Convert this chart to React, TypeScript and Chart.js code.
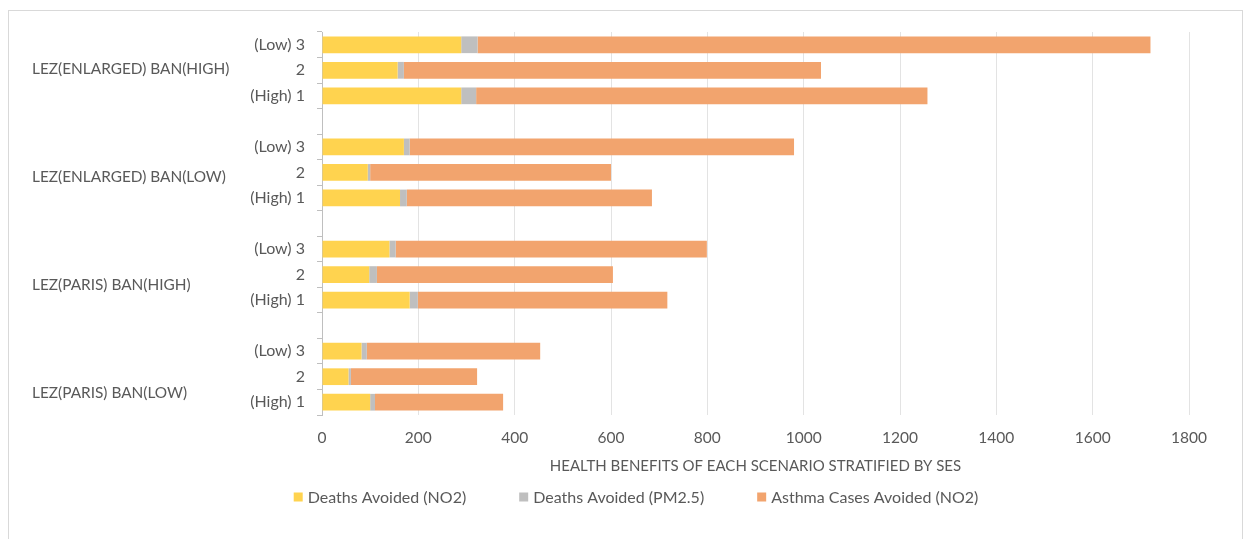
import React, { useEffect, useRef } from "react";
import { Chart, registerables } from "chart.js";

Chart.register(...registerables);

// ---------- data ----------
const groupNames = [
  "LEZ(ENLARGED) BAN(HIGH)",
  "LEZ(ENLARGED) BAN(LOW)",
  "LEZ(PARIS) BAN(HIGH)",
  "LEZ(PARIS) BAN(LOW)",
];
const categories = [
  "(Low) 3", "2", "(High) 1", "",
  "(Low) 3", "2", "(High) 1", "",
  "(Low) 3", "2", "(High) 1", "",
  "(Low) 3", "2", "(High) 1",
];
const deathsNO2 = [289, 157, 289, null, 170, 95, 162, null, 140, 98, 182, null, 82, 55, 100];
const deathsPM25 = [34, 13, 31, null, 12, 5, 14, null, 13, 16, 17, null, 11, 5, 10];
const asthmaNO2 = [1397, 866, 937, null, 798, 500, 509, null, 646, 490, 518, null, 360, 262, 266];
const seriesNames = ["Deaths Avoided (NO2)", "Deaths Avoided (PM2.5)", "Asthma Cases Avoided (NO2)"];
const xTickStep = 200;
const xMax = 1800;
const axisTitle = "HEALTH BENEFITS OF EACH SCENARIO STRATIFIED BY SES";

// ---------- style ----------
const FONT = "Lato, 'Open Sans', sans-serif";
const FS = 16;
const TEXT = "#595959";
const COLORS = ["#FFD34F", "#BFBFBF", "#F2A46E"];

const groupLabelPlugin = {
  id: "groupLabels",
  afterDraw(chart: any) {
    const ctx = chart.ctx;
    const y = chart.scales.y;
    const rowH = (y.bottom - y.top) / categories.length;
    ctx.save();
    ctx.font = `15.4px ${FONT}`;
    ctx.fillStyle = TEXT;
    ctx.textAlign = "left";
    ctx.textBaseline = "middle";
    groupNames.forEach((g, i) => {
      const py = y.getPixelForValue(i * 4 + 1) + i * 0.23 * rowH - 1;
      ctx.fillText(g, 32, py);
    });
    ctx.restore();
  },
};

const legendPlugin = {
  id: "bottomLegend",
  afterDraw(chart: any) {
    const ctx = chart.ctx;
    ctx.save();
    ctx.font = `${FS}px ${FONT}`;
    const box = 9, gap = 5, spacing = 53;
    const items = chart.data.datasets.map((ds: any) => ({
      label: ds.label,
      color: ds.backgroundColor,
      w: ctx.measureText(ds.label).width,
    }));
    const total = items.reduce((s: number, it: any) => s + box + gap + it.w, 0) + spacing * (items.length - 1);
    let x = 636 - total / 2;
    const cy = 497;
    ctx.textBaseline = "middle";
    ctx.textAlign = "left";
    items.forEach((it: any) => {
      ctx.fillStyle = it.color;
      ctx.fillRect(x, cy - box / 2, box, box);
      x += box + gap;
      ctx.fillStyle = TEXT;
      ctx.fillText(it.label, x, cy + 1);
      x += it.w + spacing;
    });
    ctx.restore();
  },
};

export default function App() {
  const ref = useRef<HTMLCanvasElement>(null);
  useEffect(() => {
    if (!ref.current) return;
    const chart = new Chart(ref.current, {
      type: "bar",
      data: {
        labels: categories,
        datasets: [
          { label: seriesNames[0], data: deathsNO2, backgroundColor: COLORS[0] },
          { label: seriesNames[1], data: deathsPM25, backgroundColor: COLORS[1] },
          { label: seriesNames[2], data: asthmaNO2, backgroundColor: COLORS[2] },
        ] as any,
      },
      options: {
        indexAxis: "y",
        animation: false,
        responsive: false,
        devicePixelRatio: 1,
        layout: { padding: { top: 32, right: 61, bottom: 62, left: 0 } },
        datasets: { bar: { barPercentage: 0.655, categoryPercentage: 1 } } as any,
        plugins: { legend: { display: false }, tooltip: { enabled: false } },
        scales: {
          x: {
            stacked: true,
            min: 0,
            max: xMax,
            ticks: {
              stepSize: xTickStep,
              color: TEXT,
              font: { family: FONT, size: 15.5 },
              padding: 14,
              callback: (v: any) => String(v),
            },
            grid: { color: "#E3E3E3", drawTicks: false },
            border: { display: false },
            title: {
              display: true,
              text: axisTitle,
              color: TEXT,
              font: { family: FONT, size: 15 },
              padding: { top: 0, bottom: 2 },
            },
            afterFit: (s: any) => { s.height = 62; },
          },
          y: {
            stacked: true,
            ticks: { color: TEXT, font: { family: FONT, size: FS }, padding: 12, autoSkip: false },
            grid: { drawOnChartArea: false, drawTicks: true, tickLength: 5, offset: true, color: "#BFBFBF" },
            border: { display: true, color: "#BFBFBF" },
            afterFit: (s: any) => { s.width = 322; },
          },
        },
      },
      plugins: [groupLabelPlugin, legendPlugin],
    });
    return () => chart.destroy();
  }, []);

  return (
    <div style={{ position: "fixed", left: 0, top: 0, width: 1250, height: 539, background: "#fff", overflow: "hidden" }}>
      <div style={{ position: "absolute", left: 8, top: 10, width: 1233, height: 600, border: "1px solid #D9D9D9" }} />
      <canvas ref={ref} width={1250} height={539} style={{ position: "absolute", left: 0, top: 0 }} />
    </div>
  );
}
